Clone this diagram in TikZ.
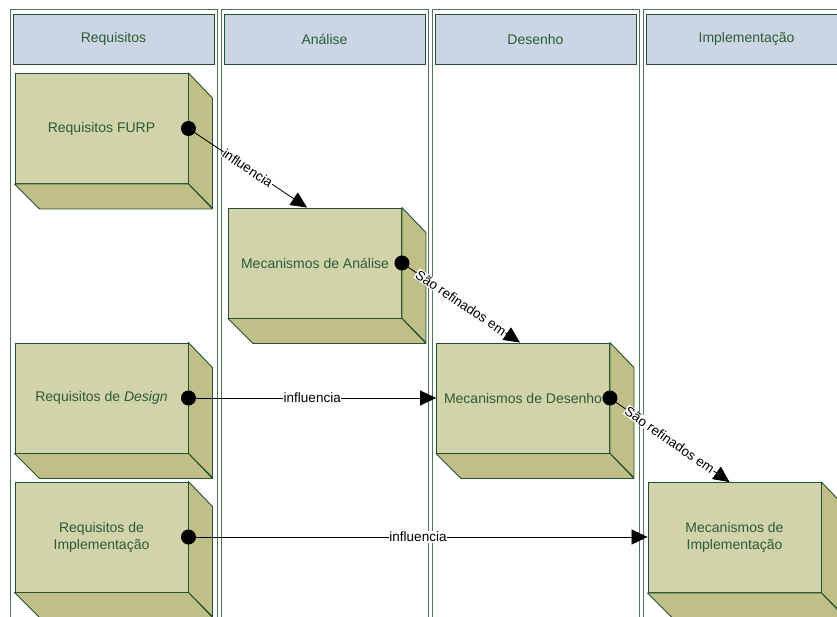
\documentclass[tikz,border=0pt]{standalone}
\usepackage{fontspec}
\setmainfont{Liberation Sans}
\usetikzlibrary{arrows.meta,calc}
\definecolor{lanecol}{HTML}{4F7458}
\definecolor{darkgr}{HTML}{23502E}
\definecolor{txtgr}{HTML}{2F5A35}
\definecolor{headfill}{HTML}{CAD6E4}
\definecolor{frontfill}{HTML}{D1D3AB}
\definecolor{sidefill}{HTML}{BFBF87}
\tikzset{
 lane/.style={draw=lanecol, line width=1pt},
 header/.style={draw=darkgr, fill=headfill, line width=1pt, minimum width=201pt, minimum height=50pt, inner sep=0pt, text=txtgr, font=\fontsize{14}{16}\selectfont},
 cubefront/.style={draw=darkgr, fill=frontfill, line width=0.9pt, minimum width=173pt, minimum height=110pt, inner sep=0pt, text=txtgr, align=center, font=\fontsize{14}{17}\selectfont},
 cubeside/.style={draw=darkgr, fill=sidefill, line width=0.9pt, line join=round},
 startdot/.style={circle, fill=black, minimum size=15pt, inner sep=0pt},
 conn/.style={draw=black, line width=0.8pt, -{Triangle[length=16pt,width=15pt]}},
 lbl/.style={fill=white, inner sep=0.6pt, font=\fontsize{13.5}{15}\selectfont, text=black},
}
\newcommand\cubebox[4]{%
 \node[cubefront] (#1) at (#2,#3) {#4};
 \filldraw[cubeside] (#1.north east) -- ++(24,25) -- ++(0,110) -- (#1.south east) -- cycle;
 \filldraw[cubeside] (#1.south west) -- (#1.south east) -- ++(24,25) -- ++(-173,0) -- cycle;
}
\begin{document}
\begin{tikzpicture}[x=1pt,y=-1pt]
\useasboundingbox (0,0) rectangle (837,616);
\clip (0,0) rectangle (837,616);
\fill[white] (0,0) rectangle (837,616);
\foreach \x/\t [count=\i] in {10/Requisitos, 221/Análise, 432/Desenho, 643/Implementação} {
  \draw[lane] (\x,9) rectangle ++(207,620);
  \node[header] (h\i) at (\x+103.5,39) {\t};
}
\cubebox{furp}{101.5}{128.5}{Requisitos FURP}
\cubebox{ana}{315}{263}{Mecanismos de Análise}
\cubebox{design}{101.5}{398}{Requisitos de \textit{Design}}
\cubebox{desenho}{523}{398}{Mecanismos de Desenho}
\cubebox{reqimpl}{101.5}{537}{Requisitos de\\Implementação}
\cubebox{mecimpl}{734.5}{537.5}{Mecanismos de\\Implementação}
\coordinate (s1) at (furp.east);
\coordinate (s2) at (ana.east);
\coordinate (s3) at (design.east);
\coordinate (s4) at (desenho.east);
\coordinate (s5) at (reqimpl.east);
\draw[conn] (s1) -- node[lbl, sloped] {influencia} ($(ana.north)+(-8,0)$);
\draw[conn] (s2) -- node[lbl, sloped] {São refinados em} ($(desenho.north)+(-3,0)$);
\draw[conn] (s3) -- node[lbl] {influencia} (desenho.west);
\draw[conn] (s4) -- node[lbl, sloped] {São refinados em} ($(mecimpl.north)+(-5,0)$);
\draw[conn] (s5) -- node[lbl] {influencia} (mecimpl.west |- s5);
\node[startdot] (d1) at (s1) {};
\node[startdot] (d2) at (s2) {};
\node[startdot] (d3) at (s3) {};
\node[startdot] (d4) at (s4) {};
\node[startdot] (d5) at (s5) {};
\end{tikzpicture}
\end{document}
